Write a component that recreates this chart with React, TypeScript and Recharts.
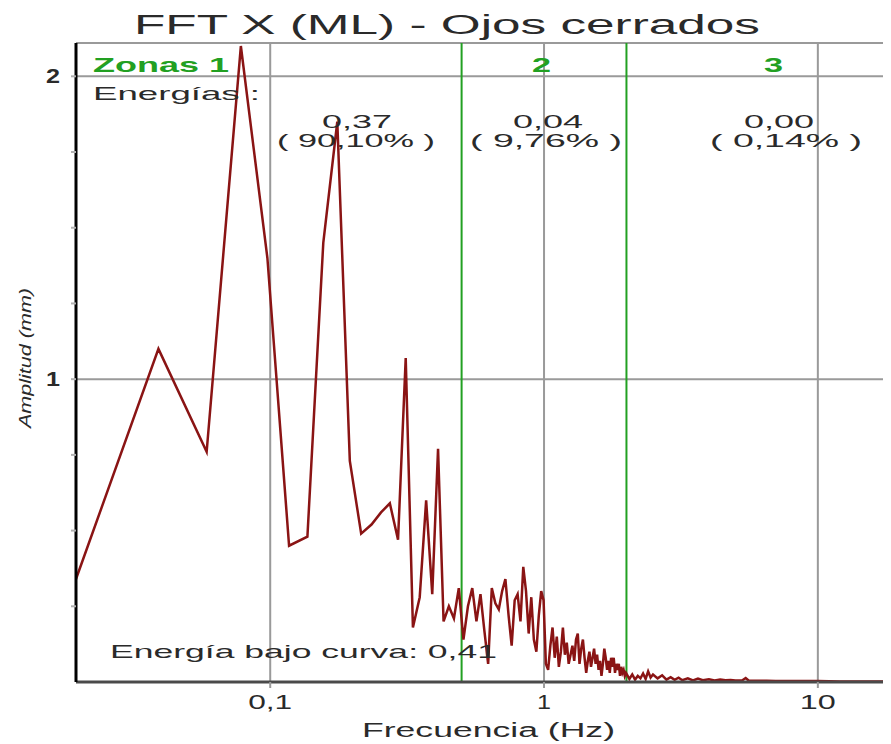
import React from "react";
import { LineChart, Line, XAxis, YAxis, ReferenceLine } from "recharts";

// FFT bin spacing (51.2 s window)
const DF = 0.01953125;

// amplitudes for bins 1..102 (0.02 - 2 Hz)
const AMP_LOW = [
  0.34, 1.1, 0.76, 2.1, 1.4, 0.45, 0.48, 1.45, 1.85, 0.73,
  0.49, 0.52, 0.56, 0.59, 0.47, 1.07, 0.18, 0.28, 0.6, 0.29,
  0.77, 0.2, 0.25, 0.21, 0.31, 0.14, 0.25, 0.31, 0.2, 0.29,
  0.17, 0.06, 0.31, 0.26, 0.24, 0.3, 0.34, 0.22, 0.12, 0.27,
  0.29, 0.2, 0.38, 0.3, 0.16, 0.28, 0.14, 0.1, 0.22, 0.3,
  0.27, 0.06, 0.04, 0.12, 0.18, 0.08, 0.15, 0.05, 0.1, 0.18,
  0.09, 0.13, 0.06, 0.09, 0.12, 0.07, 0.14, 0.16, 0.06, 0.11,
  0.14, 0.08, 0.03, 0.07, 0.1, 0.05, 0.08, 0.11, 0.06, 0.09,
  0.04, 0.07, 0.02, 0.06, 0.11, 0.08, 0.04, 0.07, 0.03, 0.08,
  0.05, 0.08, 0.03, 0.06, 0.04, 0.06, 0.02, 0.05, 0.03, 0.04,
  0.02, 0.03,
];

// above 2 Hz the spectrum is almost flat, sampled more coarsely
const TAIL_FREQ = [
  2.05, 2.1, 2.15, 2.2, 2.25, 2.3, 2.35, 2.4, 2.45, 2.5,
  2.6, 2.7, 2.8, 2.9, 3.0, 3.1, 3.2, 3.35, 3.5, 3.65,
  3.8, 4.0, 4.2, 4.4, 4.6, 4.8, 5.0, 5.3, 5.45, 5.6,
  6.0, 6.5, 7.0, 7.5, 8.0, 9.0, 10, 12, 14, 16, 18.5,
];
const TAIL_AMP = [
  0.01, 0.025, 0.008, 0.02, 0.012, 0.028, 0.01, 0.035, 0.015, 0.025,
  0.012, 0.022, 0.008, 0.016, 0.007, 0.014, 0.006, 0.012, 0.005, 0.011,
  0.006, 0.009, 0.005, 0.008, 0.006, 0.007, 0.005, 0.006, 0.013, 0.004,
  0.004, 0.004, 0.003, 0.003, 0.003, 0.003, 0.003, 0.002, 0.002, 0.002, 0.002,
];

const X_MIN = 0.01953;
const X_MAX = 18.5;
const Y_MAX = 2.11;
const X_TICKS = [0.1, 1, 10];
const X_TICK_LABELS = ["0,1", "1", "10"];
const Y_TICKS = [0.25, 0.5, 0.75, 1, 1.25, 1.5, 1.75, 2];
const Y_TICK_LABELS: Record<number, string> = { 1: "1", 2: "2" };
const ZONE_EDGES = [0.5, 2];
const ZONE_LABELS = ["Zonas 1", "2", "3"];
const ZONE_ENERGY = ["0,37", "0,04", "0,00"];
const ZONE_PCT = ["( 90,10% )", "( 9,76% )", "( 0,14% )"];
const TOTAL_ENERGY = "0,41";

const rows = [
  ...AMP_LOW.map((a, i) => ({ f: (i + 1) * DF, a })),
  ...TAIL_FREQ.map((f, i) => ({ f, a: TAIL_AMP[i] })),
];

const W = 883;
const H = 736;
const FONT = "'Liberation Sans', Arial, sans-serif";
const TEXT = "#2a2a2a";
const GREEN = "#22a022";
const GRID = "#9a9a9a";

function XTick(props: any) {
  const idx = X_TICKS.indexOf(props.payload.value);
  const label = X_TICK_LABELS[idx] ?? "";
  const len = [44, 14, 36][idx] ?? 20;
  return (
    <text
      x={props.x - len / 2}
      y={props.y}
      dy={19}
      fontSize={20}
      fontFamily={FONT}
      fill={TEXT}
      textLength={len}
      lengthAdjust="spacingAndGlyphs"
    >
      {label}
    </text>
  );
}

function YTick(props: any) {
  const label = Y_TICK_LABELS[props.payload.value];
  if (!label) return <g />;
  return (
    <text
      x={props.x - 23}
      y={props.y}
      dy={7}
      fontSize={20}
      fontWeight={700}
      fontFamily={FONT}
      fill={TEXT}
      textLength={14}
      lengthAdjust="spacingAndGlyphs"
    >
      {label}
    </text>
  );
}

function Overlay() {
  const t = { fontFamily: FONT, fill: TEXT, lengthAdjust: "spacingAndGlyphs" as const };
  return (
    <svg
      width={W}
      height={H}
      style={{ position: "absolute", left: 0, top: 0, pointerEvents: "none" }}
    >
      <text {...t} x={126} y={26} fontSize={27} textLength={626}>
        FFT X (ML) - Ojos cerrados
      </text>

      {/* zone headers */}
      <text {...t} x={85} y={64} fontSize={21} fontWeight={700} fill={GREEN} textLength={136}>
        {ZONE_LABELS[0]}
      </text>
      <text {...t} x={524} y={64} fontSize={21} fontWeight={700} fill={GREEN} textLength={19}>
        {ZONE_LABELS[1]}
      </text>
      <text {...t} x={756} y={64} fontSize={21} fontWeight={700} fill={GREEN} textLength={19}>
        {ZONE_LABELS[2]}
      </text>

      <text {...t} x={85} y={92} fontSize={19} textLength={167}>
        Energías :
      </text>

      {/* energy per zone */}
      <text {...t} x={314} y={120} fontSize={19} textLength={70}>{ZONE_ENERGY[0]}</text>
      <text {...t} x={269} y={139} fontSize={19} textLength={158}>{ZONE_PCT[0]}</text>
      <text {...t} x={505} y={120} fontSize={19} textLength={70}>{ZONE_ENERGY[1]}</text>
      <text {...t} x={462} y={139} fontSize={19} textLength={152}>{ZONE_PCT[1]}</text>
      <text {...t} x={736} y={120} fontSize={19} textLength={70}>{ZONE_ENERGY[2]}</text>
      <text {...t} x={702} y={139} fontSize={19} textLength={152}>{ZONE_PCT[2]}</text>

      <text {...t} x={102} y={650} fontSize={19} textLength={387}>
        {`Energía bajo curva: ${TOTAL_ENERGY}`}
      </text>

      <text {...t} x={354} y={729} fontSize={20} textLength={253}>
        Frecuencia (Hz)
      </text>

      <text
        {...t}
        x={18}
        y={350}
        fontSize={16}
        fontStyle="italic"
        textAnchor="middle"
        textLength={140}
        transform="rotate(-90 18 350)"
        dy={5}
      >
        Amplitud (mm)
      </text>
    </svg>
  );
}

export default function App() {
  return (
    <div style={{ position: "relative", width: W, height: H, background: "#fff" }}>
      <LineChart
        width={W}
        height={H}
        data={rows}
        margin={{ top: 35, right: 0, bottom: 0, left: 0 }}
      >
        <XAxis
          dataKey="f"
          type="number"
          scale="log"
          domain={[X_MIN, X_MAX]}
          allowDataOverflow
          ticks={X_TICKS}
          interval={0}
          tick={XTick}
          tickSize={6}
          tickLine={{ stroke: GRID, strokeWidth: 2 }}
          axisLine={{ stroke: "#4a4a4a", strokeWidth: 3 }}
          height={62}
        />
        <YAxis
          type="number"
          domain={[0, Y_MAX]}
          allowDataOverflow
          ticks={Y_TICKS}
          interval={0}
          tick={YTick}
          tickSize={5}
          tickLine={{ stroke: "#b0b0b0", strokeWidth: 2 }}
          axisLine={{ stroke: "#000", strokeWidth: 3 }}
          width={68}
        />

        {/* grid */}
        <ReferenceLine y={Y_MAX} stroke={GRID} strokeWidth={2} />
        <ReferenceLine y={2} stroke={GRID} strokeWidth={2} />
        <ReferenceLine y={1} stroke={GRID} strokeWidth={2} />
        {X_TICKS.map((v) => (
          <ReferenceLine key={v} x={v} stroke={GRID} strokeWidth={2} />
        ))}
        {ZONE_EDGES.map((v) => (
          <ReferenceLine key={"z" + v} x={v} stroke={GREEN} strokeWidth={2} />
        ))}

        <Line
          dataKey="a"
          type="linear"
          stroke="#8a1414"
          strokeWidth={2.5}
          dot={false}
          isAnimationActive={false}
        />
      </LineChart>
      <Overlay />
    </div>
  );
}
